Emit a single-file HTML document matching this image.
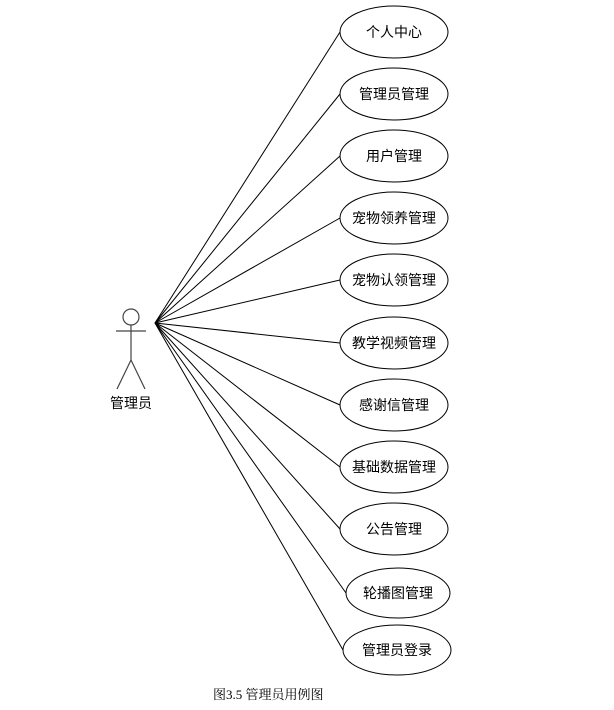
<!DOCTYPE html>
<html><head><meta charset="utf-8"><style>
html,body{margin:0;padding:0;background:#fff;width:614px;height:710px;overflow:hidden}
text{font-family:"Liberation Sans","Noto Sans CJK SC",sans-serif;font-size:14px;fill:#000}
</style></head><body>
<svg width="614" height="710" xmlns="http://www.w3.org/2000/svg">
<g stroke="#000" stroke-width="1">
<line x1="155" y1="323" x2="340" y2="32"/>
<line x1="155" y1="323" x2="340" y2="94"/>
<line x1="155" y1="323" x2="340" y2="156"/>
<line x1="155" y1="323" x2="340" y2="218"/>
<line x1="155" y1="323" x2="340" y2="280"/>
<line x1="155" y1="323" x2="340" y2="343"/>
<line x1="155" y1="323" x2="340" y2="405"/>
<line x1="155" y1="323" x2="340" y2="467"/>
<line x1="155" y1="323" x2="340" y2="529"/>
<line x1="155" y1="323" x2="346" y2="593"/>
<line x1="155" y1="323" x2="343" y2="650"/>
</g>
<g stroke="#000" stroke-width="1" fill="#fff">
<ellipse cx="394" cy="32" rx="54" ry="26"/>
<ellipse cx="394" cy="94" rx="54" ry="26"/>
<ellipse cx="394" cy="156" rx="54" ry="26"/>
<ellipse cx="394" cy="218" rx="54" ry="26"/>
<ellipse cx="394" cy="280" rx="54" ry="26"/>
<ellipse cx="394" cy="343" rx="54" ry="26"/>
<ellipse cx="394" cy="405" rx="54" ry="26"/>
<ellipse cx="394" cy="467" rx="54" ry="26"/>
<ellipse cx="394" cy="529" rx="54" ry="26"/>
<ellipse cx="398" cy="593" rx="52" ry="25"/>
<ellipse cx="397" cy="650" rx="54" ry="25"/>
</g>
<g text-anchor="middle">
<text x="394" y="37">个人中心</text>
<text x="394" y="99">管理员管理</text>
<text x="394" y="161">用户管理</text>
<text x="394" y="223">宠物领养管理</text>
<text x="394" y="285">宠物认领管理</text>
<text x="394" y="348">教学视频管理</text>
<text x="394" y="410">感谢信管理</text>
<text x="394" y="472">基础数据管理</text>
<text x="394" y="534">公告管理</text>
<text x="398" y="598">轮播图管理</text>
<text x="397" y="655">管理员登录</text>
<text x="131" y="408">管理员</text>
</g>
<g stroke="#444" stroke-width="1.2" fill="none">
<circle cx="131" cy="317" r="8"/>
<line x1="131" y1="325" x2="131" y2="360"/>
<line x1="116" y1="331" x2="146" y2="331"/>
<line x1="131" y1="360" x2="117" y2="389"/>
<line x1="131" y1="360" x2="145" y2="389"/>
</g>
<text x="213" y="699" style="font-family:'Liberation Serif','Noto Serif CJK SC',serif;font-size:13px">图3.5  管理员用例图</text>
</svg>
</body></html>
